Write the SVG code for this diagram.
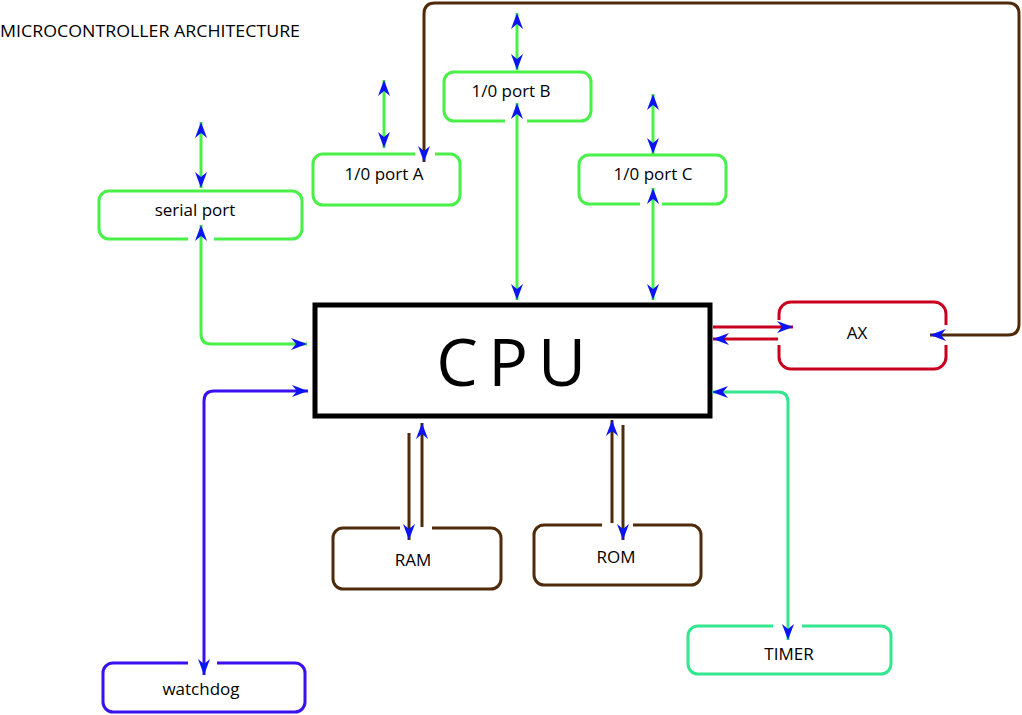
<svg xmlns="http://www.w3.org/2000/svg" width="1022" height="715" viewBox="0 0 1022 715">
<style>
  .t { font-family: "Open Sans", "Liberation Sans", sans-serif; font-size: 17px; fill: #000; text-anchor: middle; }
  .box { fill: none; stroke-width: 3; stroke-linecap: butt; }
  .g { stroke: #48f048; }
  .br { stroke: #4f2b0b; }
  .rd { stroke: #c8001e; }
  .tl { stroke: #35e690; }
  .vi { stroke: #3a10f0; }
  .c { fill: none; stroke-width: 3; }
  .a1 { marker-end: url(#ah); }
  .a2 { marker-start: url(#ah); marker-end: url(#ah); }
</style>
<defs>
  <marker id="ah" markerUnits="userSpaceOnUse" viewBox="-17 -7 18 14" refX="0" refY="0" markerWidth="18" markerHeight="14" orient="auto-start-reverse">
    <path d="M0,0 L-16,-6 L-11,0 L-16,6 Z" fill="#0a14f5"/>
  </marker>
</defs>
<rect width="1022" height="715" fill="#fff"/>
<text x="0" y="37" class="t" style="text-anchor:start;font-size:16.5px" textLength="300" lengthAdjust="spacingAndGlyphs">MICROCONTROLLER ARCHITECTURE</text>

<g id="cpu">
  <rect x="315" y="305" width="395" height="111" fill="#fff" stroke="#000" stroke-width="5"/>
  <text y="386" x="457 483 508 535 562" class="t" style="font-size:66px">C P U</text>
</g>
<g id="serial-port">
  <path class="box g" d="M214,239 H292 A10,10 0 0 0 302,229 V201 A10,10 0 0 0 292,191 H109 A10,10 0 0 0 99,201 V229 A10,10 0 0 0 109,239 H188"/>
  <text x="195" y="216" class="t">serial port</text>
</g>
<g id="port-a">
  <path class="box g" d="M435,154 H450 A10,10 0 0 1 460,164 V195 A10,10 0 0 1 450,205 H323 A10,10 0 0 1 313,195 V164 A10,10 0 0 1 323,154 H415"/>
  <text x="384" y="180" class="t">1/0 port A</text>
</g>
<g id="port-b">
  <path class="box g" d="M527,121 H581 A10,10 0 0 0 591,111 V82 A10,10 0 0 0 581,72 H454 A10,10 0 0 0 444,82 V111 A10,10 0 0 0 454,121 H505"/>
  <text x="511" y="97" class="t">1/0 port B</text>
</g>
<g id="port-c">
  <path class="box g" d="M662,204 H716 A10,10 0 0 0 726,194 V165 A10,10 0 0 0 716,155 H589 A10,10 0 0 0 579,165 V194 A10,10 0 0 0 589,204 H640"/>
  <text x="653" y="180" class="t">1/0 port C</text>
</g>
<g id="ax">
  <path class="box rd" d="M779,320 V314 A12,12 0 0 1 791,302 H934 A12,12 0 0 1 946,314 V325"/>
  <path class="box rd" d="M946,345 V357 A12,12 0 0 1 934,369 H791 A12,12 0 0 1 779,357 V345"/>
  <text x="857" y="339" class="t">AX</text>
</g>
<g id="ram">
  <path class="box br" d="M432,528 H491 A10,10 0 0 1 501,538 V579 A10,10 0 0 1 491,589 H343 A10,10 0 0 1 333,579 V538 A10,10 0 0 1 343,528 H400"/>
  <text x="413" y="566" class="t">RAM</text>
</g>
<g id="rom">
  <path class="box br" d="M633,525 H691 A10,10 0 0 1 701,535 V575 A10,10 0 0 1 691,585 H544 A10,10 0 0 1 534,575 V535 A10,10 0 0 1 544,525 H602"/>
  <text x="616" y="563" class="t">ROM</text>
</g>
<g id="timer">
  <path class="box tl" d="M802,626 H881 A10,10 0 0 1 891,636 V664 A10,10 0 0 1 881,674 H698 A10,10 0 0 1 688,664 V636 A10,10 0 0 1 698,626 H773"/>
  <text x="789" y="660" class="t">TIMER</text>
</g>
<g id="watchdog">
  <path class="box vi" d="M217,663 H295 A10,10 0 0 1 305,673 V702 A10,10 0 0 1 295,712 H113 A10,10 0 0 1 103,702 V673 A10,10 0 0 1 113,663 H188"/>
  <text x="201" y="695" class="t">watchdog</text>
</g>

<g id="connectors">
  <path class="c g a2" d="M201,122 V188"/>
  <path class="c g a2" d="M201,225 V334 Q201,344 211,344 H307"/>
  <path class="c g a2" d="M384,80 V148"/>
  <path class="c g a2" d="M517,13 V70"/>
  <path class="c g a2" d="M517,103 V300"/>
  <path class="c g a2" d="M653,94 V154"/>
  <path class="c g a2" d="M653,188 V300"/>
  <path class="c br a2" d="M424,162 V14 Q424,3 435,3 H1008 Q1019,3 1019,14 V324 Q1019,335 1008,335 H930"/>
  <path class="c rd a1" d="M713,327 H793"/>
  <path class="c rd a1" d="M778,339 H713"/>
  <path class="c tl a2" d="M788,640 V402 Q788,392 778,392 H712"/>
  <path class="c vi a2" d="M204,675 V401 Q204,391 214,391 H308"/>
  <path class="c br a1" d="M409,433 V540"/>
  <path class="c br a1" d="M422,527 V423"/>
  <path class="c br a1" d="M612,523 V420"/>
  <path class="c br a1" d="M623,425 V540"/>
</g>
</svg>
